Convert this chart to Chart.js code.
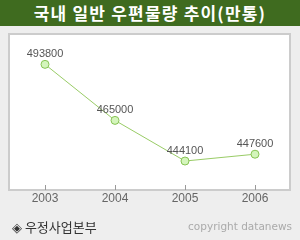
<!DOCTYPE html>
<html>
<head>
<meta charset="utf-8">
<script src="https://cdn.jsdelivr.net/npm/chart.js@4/dist/chart.umd.min.js"></script>
<style>
    html, body { margin: 0; padding: 0; }
    body { width: 300px; height: 240px; background: #eeeeee; position: relative; overflow: hidden; }
    #head {
        position: absolute; left: 0; top: 0; width: 300px; height: 26px;
        background: #3f6b1f; color: #fff; text-align: center;
        font: bold 17px "Noto Sans CJK KR", sans-serif; line-height: 26px; letter-spacing: 1.2px;
    }
    #wrap { position: absolute; left: 0; top: 0; width: 300px; height: 240px; }
    #src { position: absolute; left: 12px; top: 217px; font: 13px "Noto Sans CJK KR", sans-serif; color: #333; }
    #copy { position: absolute; right: 8px; top: 220px; font: 10.5px "DejaVu Sans", sans-serif; color: #aaa; }
</style>
</head>
<body>
<div id="wrap"><canvas id="chart" width="300" height="240"></canvas></div>
<div id="head">국내 일반 우편물량 추이(만통)</div>
<div id="src">◈ 우정사업본부</div>
<div id="copy">copyright datanews</div>
<script>
const years = ['2003', '2004', '2005', '2006'];
const volumes = [493800, 465000, 444100, 447600];
const yMin = 429200;
const yMax = 508900;

const plotFrame = {
    id: 'plotFrame',
    beforeDraw(chart) {
        const { ctx, chartArea: a } = chart;
        ctx.save();
        ctx.fillStyle = '#ffffff';
        ctx.fillRect(a.left, a.top, a.right - a.left, a.bottom - a.top);
        ctx.strokeStyle = '#cccccc';
        ctx.lineWidth = 2;
        ctx.strokeRect(a.left - 1, a.top - 1, a.right - a.left + 1, a.bottom - a.top + 1);
        // tick marks inside the plot
        const x = chart.scales.x;
        ctx.strokeStyle = '#999999';
        ctx.lineWidth = 1;
        years.forEach((_, i) => {
            const px = Math.round(x.getPixelForValue(i)) + 0.5;
            ctx.beginPath();
            ctx.moveTo(px, a.bottom - 5);
            ctx.lineTo(px, a.bottom);
            ctx.stroke();
        });
        ctx.restore();
    },
};

const valueLabels = {
    id: 'valueLabels',
    afterDatasetsDraw(chart) {
        const { ctx } = chart;
        const meta = chart.getDatasetMeta(0);
        ctx.save();
        ctx.font = '11px "Liberation Sans", sans-serif';
        ctx.fillStyle = '#555555';
        ctx.textAlign = 'center';
        ctx.textBaseline = 'alphabetic';
        meta.data.forEach((pt, i) => {
            ctx.fillText(String(volumes[i]), pt.x, pt.y - 7);
        });
        ctx.restore();
    },
};

new Chart(document.getElementById('chart'), {
    type: 'line',
    data: {
        labels: years,
        datasets: [{
            data: volumes,
            borderColor: '#99cc66',
            borderWidth: 1,
            pointRadius: 4,
            pointBackgroundColor: '#d4f5bc',
            pointBorderColor: '#88c455',
            pointBorderWidth: 1,
            tension: 0,
        }],
    },
    options: {
        responsive: false,
        animation: false,
        layout: { padding: { left: 10, right: 10, top: 35, bottom: 0 } },
        scales: {
            x: {
                offset: true,
                grid: { display: false, drawTicks: false },
                border: { display: false },
                ticks: {
                    color: '#666666',
                    font: { family: 'Liberation Sans', size: 12 },
                    padding: 1,
                },
                afterFit(scale) { scale.height = 50; },
            },
            y: { display: false, min: yMin, max: yMax },
        },
        plugins: {
            legend: { display: false },
            tooltip: { enabled: false },
        },
    },
    plugins: [plotFrame, valueLabels],
});
</script>
</body>
</html>
